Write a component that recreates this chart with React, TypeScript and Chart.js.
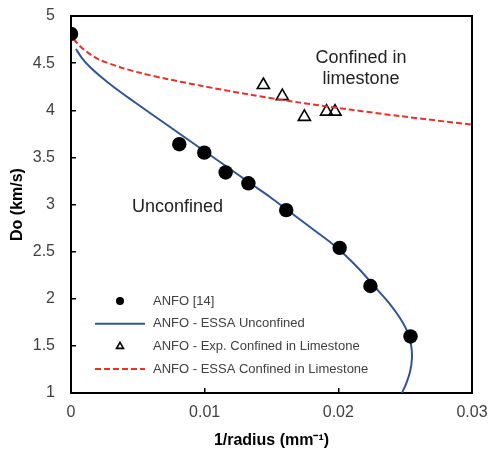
import React, { useEffect, useRef } from "react";
import { Chart, registerables } from "chart.js";

Chart.register(...registerables);

// ---------- data ----------
const X_TICKS = [0, 0.01, 0.02, 0.03];
const X_TICK_LABELS = ["0", "0.01", "0.02", "0.03"];
const Y_TICKS = [1, 1.5, 2, 2.5, 3, 3.5, 4, 4.5, 5];
const Y_TICK_LABELS = ["1", "1.5", "2", "2.5", "3", "3.5", "4", "4.5", "5"];

const SERIES_LABELS = [
  "ANFO [14]",
  "ANFO - ESSA Unconfined",
  "ANFO - Exp. Confined in Limestone",
  "ANFO - ESSA Confined in Limestone",
];

const ANFO_X = [0, 0.0081, 0.00997, 0.01157, 0.01327, 0.0161, 0.0201, 0.0224, 0.0254];
const ANFO_Y = [4.81, 3.64, 3.55, 3.34, 3.225, 2.94, 2.54, 2.135, 1.6];

const ESSA_UNC_X = [
  0.00037, 0.00082, 0.00142, 0.00217, 0.00329, 0.00464, 0.00591, 0.00741, 0.0089, 0.0104,
  0.0119, 0.01339, 0.01489, 0.01638, 0.01788, 0.01938, 0.0205, 0.02162, 0.02274, 0.02386,
  0.02461, 0.02514, 0.02544, 0.02551, 0.02536, 0.02506, 0.02476,
];
const ESSA_UNC_Y = [
  4.65, 4.554, 4.459, 4.363, 4.236, 4.098, 3.971, 3.822, 3.674, 3.525,
  3.377, 3.228, 3.08, 2.92, 2.761, 2.602, 2.464, 2.305, 2.125, 1.944,
  1.796, 1.658, 1.509, 1.371, 1.223, 1.095, 1.0,
];

const EXP_CONF_X = [0.01439, 0.01581, 0.01746, 0.01912, 0.01975];
const EXP_CONF_Y = [4.268, 4.15, 3.93, 3.985, 3.985];

const ESSA_CONF_X = [
  0.0002, 0.00045, 0.00082, 0.0012, 0.00157, 0.00217, 0.00367, 0.00516, 0.00718, 0.00965,
  0.01339, 0.01713, 0.02087, 0.02461, 0.03,
];
const ESSA_CONF_Y = [
  4.756, 4.714, 4.66, 4.618, 4.581, 4.533, 4.457, 4.397, 4.332, 4.262,
  4.166, 4.081, 4.007, 3.938, 3.847,
];

const NOTE_TEXT = ["Confined in", "limestone", "Unconfined"];
const NOTE_X = [0.0217, 0.0217, 0.00797];
const NOTE_Y = [4.554, 4.33, 2.97];

const X_TITLE = "1/radius (mm\u207B\u00B9)";
const Y_TITLE = "Do (km/s)";

// ---------- helpers ----------
const pts = (xs: number[], ys: number[]) => xs.map((x, i) => ({ x, y: ys[i] }));

const FONT = "'Liberation Sans', Arial, sans-serif";
const BLUE = "#2F5597";
const RED = "#E8312A";
const TICK_COLOR = "#404040";

const zeroPad = (scale: any) => {
  scale.paddingTop = 0;
  scale.paddingBottom = 0;
  scale.paddingLeft = 0;
  scale.paddingRight = 0;
};

const boxPlugin = {
  id: "boxPlugin",
  beforeDatasetsDraw(chart: any) {
    const { ctx, chartArea } = chart;
    ctx.save();
    ctx.strokeStyle = "#000";
    ctx.lineWidth = 2;
    ctx.strokeRect(chartArea.left, chartArea.top, chartArea.right - chartArea.left, chartArea.bottom - chartArea.top);
    ctx.restore();
  },
};

const notesPlugin = {
  id: "notesPlugin",
  afterDatasetsDraw(chart: any) {
    const { ctx } = chart;
    const xs = chart.scales.x;
    const ys = chart.scales.y;
    ctx.save();
    ctx.font = `18px ${FONT}`;
    ctx.fillStyle = "#222";
    ctx.textAlign = "center";
    ctx.textBaseline = "middle";
    NOTE_TEXT.forEach((t, i) => {
      ctx.fillText(t, xs.getPixelForValue(NOTE_X[i]), ys.getPixelForValue(NOTE_Y[i]));
    });
    ctx.restore();
  },
};

const legendPlugin = {
  id: "insideLegend",
  afterDraw(chart: any) {
    const { ctx } = chart;
    const markerX = 120;
    const lineX0 = 95;
    const lineX1 = 145;
    const textX = 153;
    const y0 = 301;
    const dy = 22.7;
    ctx.save();
    ctx.font = `13px ${FONT}`;
    ctx.textBaseline = "middle";
    ctx.textAlign = "left";
    chart.data.datasets.forEach((ds: any, i: number) => {
      const y = y0 + i * dy;
      if (ds.showLine) {
        ctx.save();
        ctx.strokeStyle = ds.borderColor;
        ctx.lineWidth = ds.borderWidth;
        ctx.setLineDash(ds.borderDash || []);
        ctx.beginPath();
        ctx.moveTo(lineX0, y);
        ctx.lineTo(lineX1, y);
        ctx.stroke();
        ctx.restore();
      } else if (ds.pointStyle === "triangle") {
        const r = 4;
        ctx.save();
        ctx.strokeStyle = "#000";
        ctx.lineWidth = 1.6;
        ctx.beginPath();
        ctx.moveTo(markerX, y - r);
        ctx.lineTo(markerX + r * 0.866, y + r * 0.5);
        ctx.lineTo(markerX - r * 0.866, y + r * 0.5);
        ctx.closePath();
        ctx.stroke();
        ctx.restore();
      } else {
        ctx.save();
        ctx.fillStyle = "#000";
        ctx.beginPath();
        ctx.arc(markerX, y, 4, 0, Math.PI * 2);
        ctx.fill();
        ctx.restore();
      }
      ctx.fillStyle = TICK_COLOR;
      ctx.fillText(ds.label, textX, y);
    });
    ctx.restore();
  },
};

export default function App() {
  const ref = useRef<HTMLCanvasElement | null>(null);

  useEffect(() => {
    if (!ref.current) return;
    const chart = new Chart(ref.current, {
      type: "scatter",
      data: {
        datasets: [
          {
            label: SERIES_LABELS[0],
            data: pts(ANFO_X, ANFO_Y),
            showLine: false,
            pointStyle: "circle",
            pointRadius: 7.2,
            backgroundColor: "#000",
            borderColor: "#000",
            borderWidth: 0,
            order: 0,
          },
          {
            label: SERIES_LABELS[1],
            data: pts(ESSA_UNC_X, ESSA_UNC_Y),
            showLine: true,
            tension: 0.3,
            pointRadius: 0,
            borderColor: BLUE,
            borderWidth: 2,
            backgroundColor: BLUE,
            order: 3,
          },
          {
            label: SERIES_LABELS[2],
            data: pts(EXP_CONF_X, EXP_CONF_Y),
            showLine: false,
            pointStyle: "triangle",
            pointRadius: 7,
            backgroundColor: "rgba(0,0,0,0)",
            borderColor: "#000",
            borderWidth: 1.6,
            order: 2,
          },
          {
            label: SERIES_LABELS[3],
            data: pts(ESSA_CONF_X, ESSA_CONF_Y),
            showLine: true,
            tension: 0.3,
            pointRadius: 0,
            borderColor: RED,
            borderWidth: 2,
            borderDash: [6, 3],
            backgroundColor: RED,
            order: 1,
          },
        ],
      },
      options: {
        animation: false,
        responsive: false,
        layout: { padding: { top: 16, right: 17, bottom: 0, left: 0 } },
        plugins: {
          legend: { display: false },
          tooltip: { enabled: false },
        },
        scales: {
          x: {
            type: "linear",
            min: 0,
            max: 0.03,
            afterBuildTicks: (scale: any) => {
              scale.ticks = X_TICKS.map((v) => ({ value: v }));
            },
            afterFit: (scale: any) => {
              scale.height = 59;
              zeroPad(scale);
            },
            ticks: {
              callback: (_v: any, i: number) => X_TICK_LABELS[i],
              font: { family: FONT, size: 16 },
              color: TICK_COLOR,
              padding: 15,
              maxRotation: 0,
            },
            grid: {
              display: true,
              drawOnChartArea: false,
              drawTicks: true,
              tickLength: -5,
              color: "#000",
              lineWidth: 1.5,
            },
            border: { display: false },
            title: {
              display: true,
              text: X_TITLE,
              font: { family: FONT, size: 16, weight: "bold" },
              color: "#000",
              padding: { top: 0, bottom: 2 },
            },
          },
          y: {
            type: "linear",
            min: 1,
            max: 5,
            afterBuildTicks: (scale: any) => {
              scale.ticks = Y_TICKS.map((v) => ({ value: v }));
            },
            afterFit: (scale: any) => {
              scale.width = 71;
              zeroPad(scale);
            },
            ticks: {
              callback: (_v: any, i: number) => Y_TICK_LABELS[i],
              font: { family: FONT, size: 16 },
              color: TICK_COLOR,
              padding: 21,
            },
            grid: {
              display: true,
              drawOnChartArea: false,
              drawTicks: true,
              tickLength: -5,
              color: "#000",
              lineWidth: 1.5,
            },
            border: { display: false },
            title: {
              display: true,
              text: Y_TITLE,
              font: { family: FONT, size: 16, weight: "bold" },
              color: "#000",
              padding: { top: 8, bottom: 0 },
            },
          },
        },
      },
      plugins: [boxPlugin, notesPlugin, legendPlugin],
    } as any);
    return () => chart.destroy();
  }, []);

  return (
    <div style={{ position: "absolute", left: 0, top: 0, width: 489, height: 452, background: "#fff" }}>
      <canvas ref={ref} width={489} height={452} />
    </div>
  );
}
